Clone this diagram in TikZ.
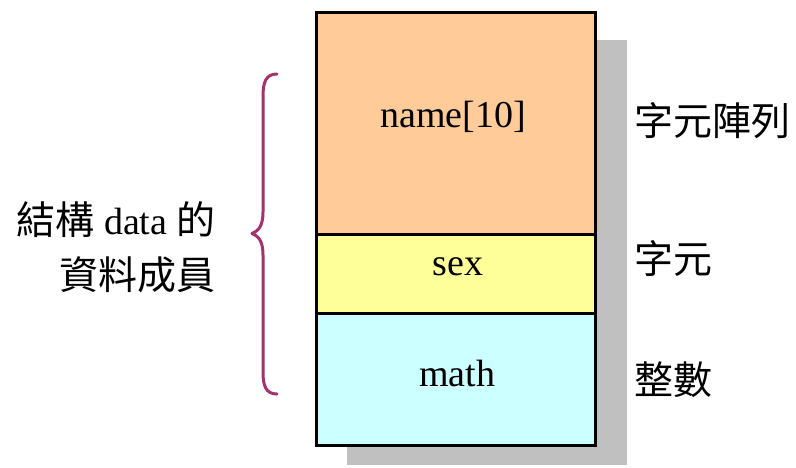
\documentclass[tikz,border=0pt]{standalone}
\usepackage{fontspec}
\setmainfont{Liberation Serif}
\newfontfamily\cjk{Noto Sans CJK TC}
\definecolor{shadowgray}{HTML}{C0C0C0}
\definecolor{fieldorange}{HTML}{FFCC99}
\definecolor{fieldyellow}{HTML}{FFFF99}
\definecolor{fieldcyan}{HTML}{CCFFFF}
\definecolor{bracecol}{HTML}{A3336E}
\begin{document}
\begin{tikzpicture}[x=1pt,y=-1pt,
  field/.style={draw=black, line width=3pt, minimum width=279pt, inner sep=0pt, anchor=north},
  member/.style={inner sep=0pt, anchor=base, font=\fontsize{38}{40}\selectfont},
  typelabel/.style={inner sep=0pt, anchor=base west, font=\fontsize{39}{41}\cjk},
  desc/.style={inner sep=0pt, anchor=base east, font=\fontsize{38}{40}\selectfont}]
  \useasboundingbox (0,0) rectangle (796,467);
  % drop shadow behind the record
  \fill[shadowgray] (347,40) rectangle (627,465);
  % the three members of the struct
  \node[field, fill=fieldorange, minimum height=222.2pt] (fname) at (456,10.5) {};
  \node[field, fill=fieldyellow, minimum height=79pt]   (fsex)  at (456,232.7) {};
  \node[field, fill=fieldcyan,   minimum height=131.8pt] (fmath) at (456,311.7) {};
  \node[member] (tname) at (453,127) {name[10]};
  \node[member] (tsex)  at (458,275) {sex};
  \node[member] (tmath) at (457,386) {math};
  % member types
  \node[typelabel] (lname) at (634,135) {字元陣列};
  \node[typelabel] (lsex)  at (634,273) {字元};
  \node[typelabel] (lmath) at (634,394) {整數};
  % description on the left
  \node[desc] (d1) at (216,234) {{\cjk\fontsize{39}{41}\selectfont 結構} data {\cjk\fontsize{39}{41}\selectfont 的}};
  \node[desc] (d2) at (216,289) {{\cjk\fontsize{39}{41}\selectfont 資料成員}};
  % curly brace grouping the members
  \draw[bracecol, line width=3pt, line cap=round, line join=round]
    (277,74) .. controls (266,74) and (263,82) .. (263,96)
    -- (263,212) .. controls (263,225) and (259,231) .. (252,233.5)
    .. controls (259,236) and (263,242) .. (263,255)
    -- (263,372) .. controls (263,386) and (266,394) .. (277,394);
\end{tikzpicture}
\end{document}
